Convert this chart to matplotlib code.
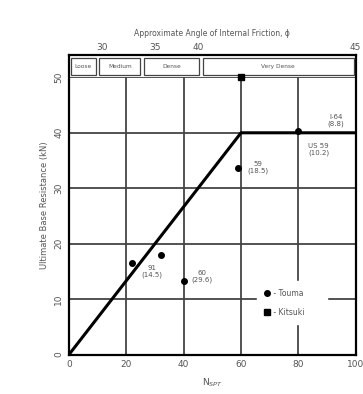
import matplotlib.pyplot as plt
from matplotlib.patches import Rectangle

# design line: resistance grows with N_SPT up to a cap
line_n = [0, 60, 100]
line_r = [0, 40, 40]

# Touma load tests
touma_n = [22, 32, 40, 59, 80]
touma_r = [16.6, 18.0, 13.3, 33.7, 40.3]
touma_lbl = ["", "91\n(14.5)", "60\n(29.6)", "59\n(18.5)", "US 59\n(10.2)"]
lbl_pos = [None, (29, 15), (46.5, 14), (66, 33.7), (87, 37)]

# Kitsuki load test
kit_n = [60]
kit_r = [50]

# extra label at the cap
cap_lbl = "I-64\n(8.8)"

# density classes along the top strip
dens_names = ["Loose", "Medium", "Dense", "Very Dense"]
dens_edges = [0, 10, 25.5, 46, 100]

# approximate friction angle scale on top
phi_n = [11.5, 30, 45, 100]
phi_lbl = ["30", "35", "40", "45"]

fig = plt.figure(figsize=(3.63, 3.94), dpi=100)
ax = fig.add_axes([0.19, 0.10, 0.79, 0.76])

ax.set_xlim(0, 100)
ax.set_ylim(0, 54)

for x in [20, 40, 60, 80]:
    ax.axvline(x, color="#444444", lw=1.3, zorder=1)
for y in [10, 20, 30, 40, 50]:
    ax.axhline(y, color="#444444", lw=1.3, zorder=1)

ax.plot(line_n, line_r, color="black", lw=2.2, zorder=3)

ax.plot(touma_n, touma_r, "o", color="black", ms=4, zorder=4, label=" - Touma      ")
ax.plot(kit_n, kit_r, "s", color="black", ms=4, zorder=4, label=" - Kitsuki      ")

for lbl, pos in zip(touma_lbl, lbl_pos):
    if pos is None:
        continue
    ax.text(pos[0], pos[1], lbl, fontsize=5, ha="center", va="center",
            color="#555555", linespacing=1.1, zorder=5)
ax.text(93, 42.3, cap_lbl, fontsize=5, ha="center", va="center",
        color="#555555", linespacing=1.1, zorder=5)

# density strip
ax.add_patch(Rectangle((0, 50), 100, 4, facecolor="white", edgecolor="none", zorder=2))
for i, name in enumerate(dens_names):
    a, b = dens_edges[i], dens_edges[i + 1]
    ax.add_patch(Rectangle((a + 0.6, 50.5), b - a - 1.2, 3.0, facecolor="white",
                           edgecolor="#444444", lw=0.9, zorder=3))
    ax.text((a + b) / 2, 52, name, fontsize=4.2, ha="center", va="center",
            color="#555555", zorder=4)

leg = ax.legend(loc="upper left", bbox_to_anchor=(0.655, 0.245), fontsize=5.5,
                frameon=True, handletextpad=0.1, handlelength=0.8,
                borderpad=1.0, labelspacing=1.3, borderaxespad=0)
leg.get_frame().set_edgecolor("white")
leg.get_frame().set_facecolor("white")
leg.get_frame().set_alpha(1)
leg.set_zorder(6)
for t in leg.get_texts():
    t.set_color("#555555")

ax.set_xticks([0, 20, 40, 60, 80, 100])
ax.set_yticks([0, 10, 20, 30, 40, 50])
ax.tick_params(labelsize=6.5, colors="#555555", length=0, pad=4)
for t in ax.get_yticklabels():
    t.set_rotation(90)
    t.set_va("center")
for s in ax.spines.values():
    s.set_linewidth(1.6)
    s.set_color("black")

ax.set_xlabel("N$_{SPT}$", fontsize=6.5, color="#555555", labelpad=5)
ax.set_ylabel("Ultimate Base Resistance (kN)", fontsize=6, color="#555555", labelpad=4)

top = ax.twiny()
top.set_xlim(0, 100)
top.set_xticks(phi_n)
top.set_xticklabels(phi_lbl)
top.tick_params(labelsize=6.5, colors="#555555", length=0, pad=2)
top.set_xlabel("Approximate Angle of Internal Friction, \u03d5", fontsize=5.5,
               color="#555555", labelpad=5)
for s in top.spines.values():
    s.set_visible(False)

fig.savefig("out.png", dpi=100, facecolor="white")
